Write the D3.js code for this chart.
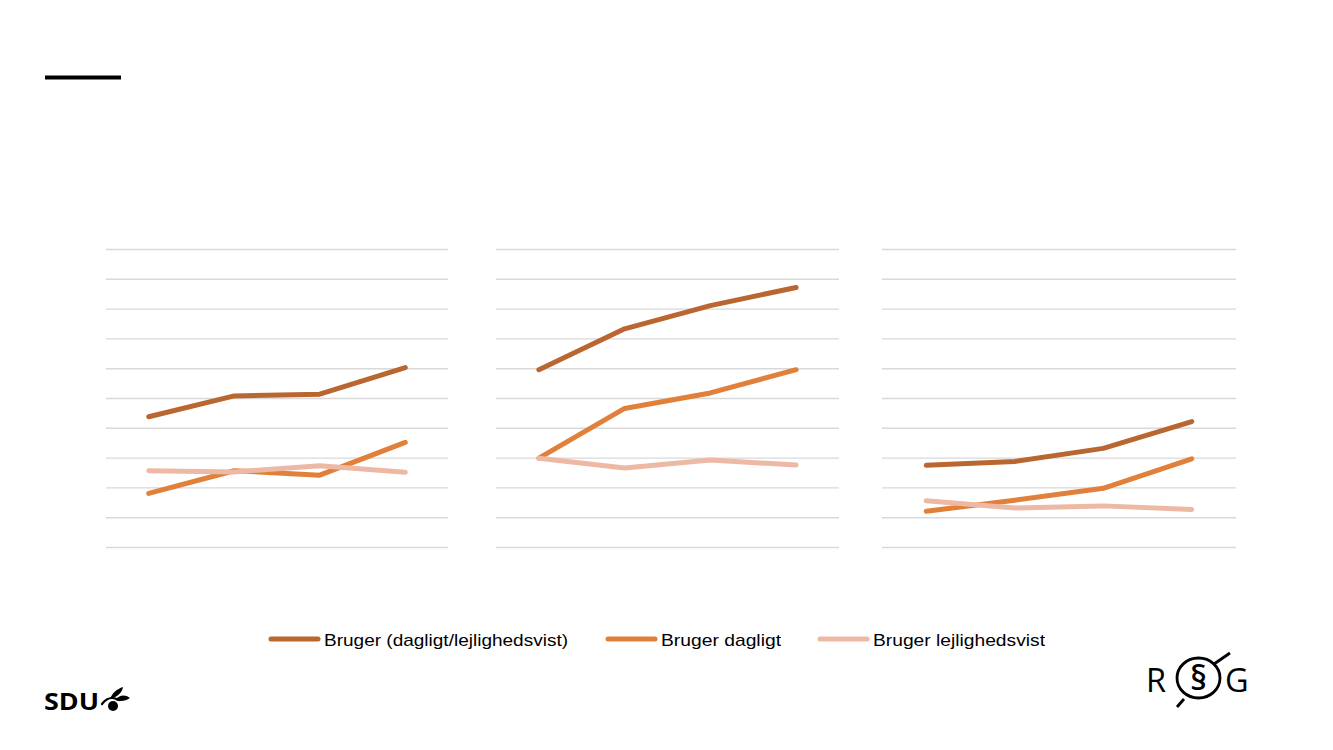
<!DOCTYPE html>
<html>
<head>
<meta charset="utf-8">
<script src="https://cdn.jsdelivr.net/npm/d3@7"></script>
<style>
  html, body { margin: 0; padding: 0; background: #ffffff; }
  svg { display: block; }
</style>
</head>
<body>
<svg id="chart" width="1333" height="750"></svg>
<script>
// ---- data ----
const categories = ["1", "2", "3", "4"];
const seriesNames = ["Bruger (dagligt/lejlighedsvist)", "Bruger dagligt", "Bruger lejlighedsvist"];
const yTicks = [0, 10, 20, 30, 40, 50, 60, 70, 80, 90, 100];

const panel1Combined   = [43.7, 50.7, 51.3, 60.2];
const panel1Daily      = [18.0, 25.6, 24.1, 35.1];
const panel1Occasional = [25.6, 25.2, 27.3, 25.1];

const panel2Combined   = [59.5, 73.2, 81.0, 87.1];
const panel2Daily      = [29.8, 46.5, 51.7, 59.5];
const panel2Occasional = [29.8, 26.5, 29.2, 27.5];

const panel3Combined   = [27.4, 28.7, 33.1, 42.1];
const panel3Daily      = [12.0, 15.7, 19.7, 29.6];
const panel3Occasional = [15.5, 13.1, 13.8, 12.6];

const colors = ["#BA6630", "#E0803A", "#EDB8A4"];

const panels = [
  { x0: 106, x1: 448, series: [panel1Combined, panel1Daily, panel1Occasional] },
  { x0: 496, x1: 839, series: [panel2Combined, panel2Daily, panel2Occasional] },
  { x0: 882, x1: 1236, series: [panel3Combined, panel3Daily, panel3Occasional] }
];

const svg = d3.select("#chart");
const yTop = 249, yBottom = 547;
const y = d3.scaleLinear().domain([0, 100]).range([yBottom, yTop]);

// top-left accent bar
svg.append("line")
  .attr("x1", 45).attr("x2", 121).attr("y1", 77.5).attr("y2", 77.5)
  .attr("stroke", "#000").attr("stroke-width", 4);

panels.forEach(p => {
  const g = svg.append("g");
  const x = d3.scalePoint().domain(categories).range([p.x0, p.x1]).padding(0.5);
  const axis = d3.axisLeft(y).tickValues(yTicks).tickSize(-(p.x1 - p.x0)).tickFormat("");
  const ag = g.append("g").attr("transform", `translate(${p.x0},0)`).call(axis);
  ag.select(".domain").remove();
  ag.selectAll(".tick line").attr("stroke", "#D9D9D9").attr("stroke-width", 1.4);

  const line = d3.line().x((d, i) => x(categories[i])).y(d => y(d));
  p.series.forEach((s, k) => {
    g.append("path")
      .attr("d", line(s))
      .attr("fill", "none")
      .attr("stroke", colors[k])
      .attr("stroke-width", 5)
      .attr("stroke-linecap", "round")
      .attr("stroke-linejoin", "round");
  });
});

// legend
const legendX = [271, 608, 820];
const legendTextW = [244, 120, 172];
const legend = svg.append("g");
seriesNames.forEach((name, i) => {
  legend.append("line")
    .attr("x1", legendX[i]).attr("x2", legendX[i] + 47)
    .attr("y1", 639).attr("y2", 639)
    .attr("stroke", colors[i]).attr("stroke-width", 5).attr("stroke-linecap", "round");
  legend.append("text")
    .attr("x", legendX[i] + 53).attr("y", 645.5)
    .attr("font-family", "Liberation Sans, Arial, sans-serif")
    .attr("font-size", 17)
    .attr("textLength", legendTextW[i])
    .attr("lengthAdjust", "spacingAndGlyphs")
    .attr("fill", "#000")
    .text(name);
});

// SDU logo
svg.append("text")
  .attr("x", 44).attr("y", 710)
  .attr("font-family", "Open Sans, Noto Sans, sans-serif")
  .attr("font-weight", 700)
  .attr("font-size", 23)
  .attr("textLength", 55)
  .attr("lengthAdjust", "spacingAndGlyphs")
  .attr("fill", "#000")
  .text("SDU");
const leaf = svg.append("g").attr("transform", "translate(98,684)");
leaf.append("path").attr("d", "M4,20 C7,16 10,14 14,14 C17,14 19,15 21,16")
  .attr("fill", "none").attr("stroke", "#000").attr("stroke-width", 2.2).attr("stroke-linecap", "round");
leaf.append("path").attr("d", "M12,15 C14,9 19,5 25,3 C24,9 19,13 12,15 Z").attr("fill", "#000");
leaf.append("path").attr("d", "M17,16 C21,11 27,10 32,14 C28,17 22,18 17,16 Z").attr("fill", "#000");
leaf.append("circle").attr("cx", 15).attr("cy", 22).attr("r", 5).attr("fill", "#000");

// RØG logo
const rog = svg.append("g");
rog.append("text").attr("x", 1146).attr("y", 692)
  .attr("font-family", "Open Sans, Noto Sans, sans-serif").attr("font-size", 32.5)
  .attr("fill", "#000").text("R");
rog.append("ellipse").attr("cx", 1198.5).attr("cy", 678).attr("rx", 21.5).attr("ry", 20)
  .attr("fill", "none").attr("stroke", "#000").attr("stroke-width", 2.8);
rog.append("line").attr("x1", 1177).attr("y1", 707).attr("x2", 1184).attr("y2", 699)
  .attr("stroke", "#000").attr("stroke-width", 2.8);
rog.append("line").attr("x1", 1214).attr("y1", 664).attr("x2", 1230).attr("y2", 653)
  .attr("stroke", "#000").attr("stroke-width", 2.8);
rog.append("text").attr("x", 1198.5).attr("y", 690).attr("text-anchor", "middle")
  .attr("font-family", "Open Sans, Noto Sans, sans-serif").attr("font-size", 34)
  .attr("font-weight", 600)
  .attr("fill", "#000").text("§");
rog.append("text").attr("x", 1225).attr("y", 692)
  .attr("font-family", "Open Sans, Noto Sans, sans-serif").attr("font-size", 32.5)
  .attr("fill", "#000").text("G");
</script>
</body>
</html>
